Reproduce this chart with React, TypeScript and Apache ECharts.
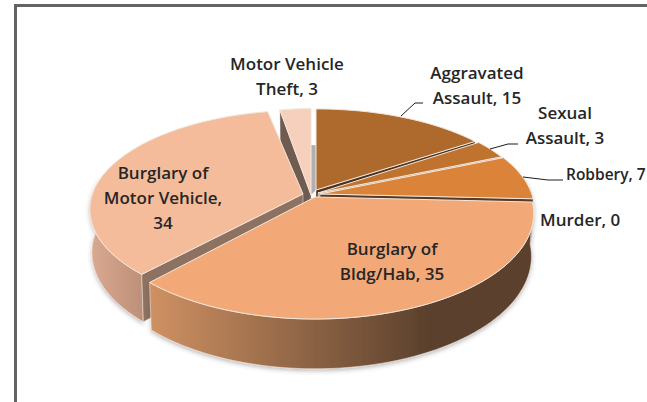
import React, { useEffect, useRef } from "react";
import * as echarts from "echarts";

const categories = ["Aggravated Assault", "Sexual Assault", "Robbery", "Murder", "Burglary of Bldg/Hab", "Burglary of Motor Vehicle", "Motor Vehicle Theft"];
const values = [15, 3, 7, 0, 35, 34, 3];
const labelTexts = ["Aggravated\nAssault, 15", "Sexual\nAssault, 3", "Robbery, 7", "Murder, 0", "Burglary of\nBldg/Hab, 35", "Burglary of\nMotor Vehicle,\n34", "Motor Vehicle\nTheft, 3"];

const W = 647, H = 402;
const CX = 315, CY = 197, RX = 216, RY = 103, PERSP = 0.156, DEPTH = 42;
const FONT = '"Open Sans", "Noto Sans", sans-serif';
const total = values.reduce((a, b) => a + b, 0);

// per-slice placement: apex position plus small shape factors (exploded 3D pie look)
const placement = [
  { ax: 316, ay: 190, sx: 0.97, sy: 0.91 },
  { ax: 318, ay: 193, sx: 0.98, sy: 0.947 },
  { ax: 320, ay: 194, sx: 0.98, sy: 0.95 },
  { ax: 318, ay: 197, sx: 1, sy: 1 },
  { ax: 315, ay: 197, sx: 1, sy: 1 },
  { ax: 303, ay: 194, sx: 0.975, sy: 0.94 },
  { ax: 311, ay: 195, sx: 0.86, sy: 0.97 },
];
const topFill = ["#ae692d", "#c0722f", "#dc833a", "#dc833a", "#f3a877", "#f5bc9c", "#f7d0bd"];
const wallStops = [
  ["#8a5526", "#6a4020"], ["#8a5526", "#6a4020"], ["#8a5526", "#5a3e28"], ["#5a3e28", "#5a3e28"],
  ["#cf9163", "#5c412d"], ["#dba991", "#bd8f78"], ["#c9a08c", "#c9a08c"],
];
// which cut face is visible: "start" | "end" | null, with its colour
const cutFace: any[] = [
  ["end", "#4b3320"], ["end", "#c8a684"], ["end", "#5a3a22"], [null, ""],
  [null, ""], ["start", "#8e7261"], ["start", "#6f5b50"],
];
const paintOrder = [0, 1, 2, 6, 5, 4];
const labelPos = [
  { x: 477, y: 72, a: "center" }, { x: 565, y: 112, a: "center" }, { x: 566, y: 174, a: "left" },
  { x: 540, y: 219, a: "left" }, { x: 392, y: 248, a: "center" }, { x: 163, y: 172, a: "center" },
  { x: 287, y: 63, a: "center" },
];
const leaders: (number[][] | null)[] = [
  [[401, 116], [415, 103], [423, 103]],
  [[490, 149], [508, 144], [518, 144]],
  [[523, 177], [548, 180], [563, 180]],
  null, null, null, null,
];

function angles(i: number) {
  let s = 0;
  for (let k = 0; k < i; k++) s += values[k];
  return [(s / total) * 360, ((s + values[i]) / total) * 360];
}
function pt(i: number, deg: number, bottom: boolean) {
  const p = placement[i];
  const t = (deg * Math.PI) / 180;
  const sc = 1 / (1 + PERSP * Math.cos(t));
  const shrink = bottom ? 0.99 : 1;
  return [
    p.ax + p.sx * RX * Math.sin(t) * sc * shrink,
    p.ay - p.sy * RY * Math.cos(t) * sc + (bottom ? DEPTH * sc : 0),
  ];
}
function apex(i: number, bottom: boolean) {
  const p = placement[i];
  return [p.ax, p.ay + (bottom ? DEPTH : 0)];
}
function arc(i: number, a: number, b: number, bottom: boolean) {
  const n = Math.max(2, Math.ceil(Math.abs(b - a) / 2));
  const out: number[][] = [];
  for (let k = 0; k <= n; k++) out.push(pt(i, a + ((b - a) * k) / n, bottom));
  return out;
}

function renderSlice(_: any, api: any) {
  const i = api.value(0);
  const [a, b] = angles(i);
  const children: any[] = [];
  if (i === 0) {
    // the sliver of back wall seen between the two top slices
    const m = 6;
    children.push({
      type: "polygon",
      shape: { points: [pt(m, 360, true), pt(0, 0, true), apex(0, false), apex(m, false)] },
      style: { fill: "#b0b0b0" },
    });
  }
  const wa = Math.max(a, 80), wb = Math.min(b, 280);
  if (wb > wa) {
    const wp = [...arc(i, wa, wb, false), ...arc(i, wb, wa, true)];
    const [c0, c1] = wallStops[i];
    children.push({
      type: "polygon",
      shape: { points: wp },
      style: {
        fill: new echarts.graphic.LinearGradient(0, 0, 1, 0, [
          { offset: 0, color: c0 },
          { offset: i === 4 ? 0.72 : 1, color: c1 },
          { offset: 1, color: c1 },
        ]),
        stroke: "#f1e4da",
        lineWidth: i === 5 || i === 4 ? 0.6 : 0,
        shadowColor: "rgba(60,60,60,0.35)",
        shadowBlur: 4,
        shadowOffsetY: 2,
      },
    });
  }
  const [side, col] = cutFace[i];
  if (side) {
    const d = side === "start" ? a : b;
    children.push({
      type: "polygon",
      shape: { points: [apex(i, false), pt(i, d, false), pt(i, d, true), apex(i, true)] },
      style: { fill: col, stroke: "#efe4da", lineWidth: 0.5 },
    });
  }
  children.push({
    type: "polygon",
    shape: { points: [apex(i, false), ...arc(i, a, b, false)] },
    style: { fill: topFill[i], stroke: "#f3e7dc", lineWidth: 1 },
  });
  return { type: "group", children };
}

function renderLabel(_: any, api: any) {
  const i = api.value(0);
  const p = labelPos[i];
  const children: any[] = [];
  const l = leaders[i];
  if (l) children.push({ type: "polyline", shape: { points: l }, style: { stroke: "#1c1c1c", lineWidth: 1, fill: null } });
  const size = i === 2 ? 15.5 : 17;
  labelTexts[i].split("\n").forEach((line, k) => {
    children.push({
      type: "text",
      style: {
        text: line, x: p.x, y: p.y + k * 25, align: p.a, verticalAlign: "middle",
        fill: "#262626", font: `600 ${size}px ${FONT}`,
      },
    });
  });
  return { type: "group", children };
}

export default function App() {
  const ref = useRef<HTMLDivElement>(null);
  useEffect(() => {
    const chart = echarts.init(ref.current!, undefined, { renderer: "svg" });
    chart.setOption({
      animation: false,
      backgroundColor: "#ffffff",
      graphic: [
        { type: "rect", z: 0, shape: { x: 15.5, y: 5.5, width: 700, height: 500 }, style: { fill: "none", stroke: "#636363", lineWidth: 3 } },
      ],
      series: [
        { type: "custom", coordinateSystem: "none", silent: true, z: 2, renderItem: renderSlice, data: paintOrder.map((i) => [i, values[i]]), dimensions: ["index", "value"] },
        { type: "custom", coordinateSystem: "none", silent: true, z: 3, renderItem: renderLabel, data: categories.map((_, i) => [i]) },
      ],
    });
    return () => chart.dispose();
  }, []);
  return <div ref={ref} style={{ position: "absolute", left: 0, top: 0, width: W, height: H }} />;
}
